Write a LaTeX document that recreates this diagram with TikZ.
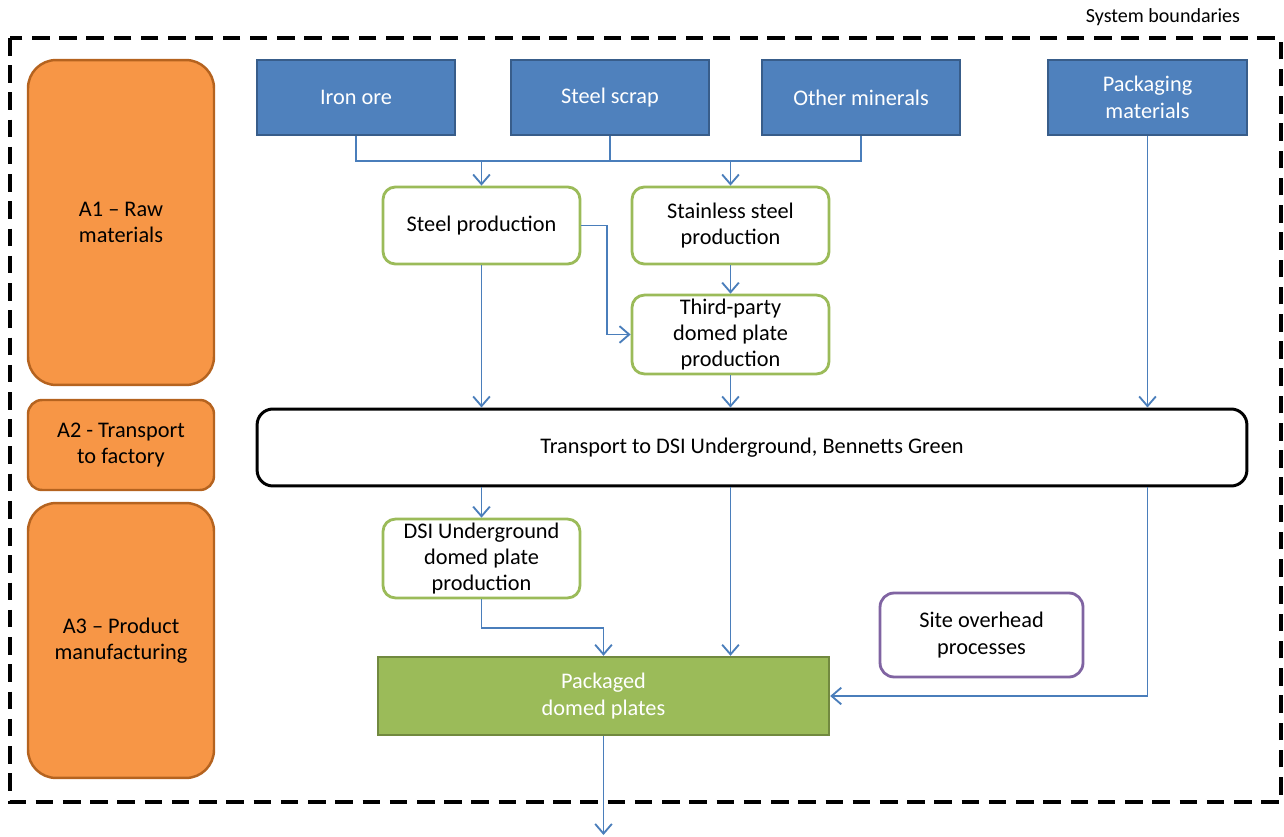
\documentclass[tikz,border=0pt]{standalone}
\usepackage{fontspec}
\setmainfont{Carlito}
\usetikzlibrary{arrows.meta}
\definecolor{orfill}{HTML}{F79646}
\definecolor{ordraw}{HTML}{B5631F}
\definecolor{blfill}{HTML}{4F81BD}
\definecolor{bldraw}{HTML}{385D8A}
\definecolor{grn}{HTML}{9BBB59}
\definecolor{grndraw}{HTML}{71893F}
\definecolor{purp}{HTML}{8064A2}
\definecolor{conn}{HTML}{4A7EBB}
\tikzset{
  every node/.style={font=\fontsize{12.7}{15}\selectfont, align=center, inner sep=2pt},
  phase/.style={draw=ordraw, fill=orfill, line width=1.4pt, rounded corners=16pt, minimum width=3.72cm},
  input/.style={draw=bldraw, fill=blfill, line width=1.2pt, text=white, minimum width=3.96cm, minimum height=1.5cm},
  proc/.style={draw=grn, fill=white, line width=1.6pt, rounded corners=7pt, minimum width=3.94cm, minimum height=1.54cm},
  wire/.style={draw=conn, line width=1.05pt},
  flow/.style={wire, -{Straight Barb[length=5.5pt,width=9.5pt]}},
}
\begin{document}
\begin{tikzpicture}[x=0.02cm, y=-0.02cm]
\useasboundingbox (0,0) rectangle (1284,837);
% system boundary
\draw[line width=2pt, dash pattern=on 10pt off 5.5pt] (10,38) rectangle (1281,802);
\node[font=\fontsize{11.4}{13}\selectfont] (sb) at (1163,17) {System boundaries};
% life-cycle phases
\node[phase, minimum height=6.5cm] (a1) at (121,222.5) {A1 -- Raw\\materials};
\node[phase, minimum height=1.8cm, rounded corners=8pt] (a2) at (121,445) {A2 - Transport\\to factory};
\node[phase, minimum height=5.5cm] (a3) at (121,640.5) {A3 -- Product\\manufacturing};
% raw inputs
\node[input] (iron) at (356,97.5) {Iron ore};
\node[input] (scrap) at (610,97.5) {Steel scrap};
\node[input] (other) at (861,97.5) {Other minerals};
\node[input, minimum width=3.98cm] (pack) at (1147.5,97.5) {Packaging\\materials};
% processes
\node[proc] (steel) at (481.5,225.5) {Steel production};
\node[proc] (stain) at (730.5,225.5) {Stainless steel\\production};
\node[proc] (third) at (730.5,334.5) {Third-party\\domed plate\\production};
\node[draw=black, fill=white, line width=1.7pt, rounded corners=9pt, minimum width=19.8cm, minimum height=1.54cm] (trans) at (752,447.5) {Transport to DSI Underground, Bennetts Green};
\node[proc] (dsi) at (481.5,558.5) {DSI Underground\\domed plate\\production};
\node[draw=grndraw, fill=grn, line width=1.4pt, text=white, minimum width=9.02cm, minimum height=1.56cm] (packd) at (603.5,696) {Packaged\\domed plates};
\node[draw=purp, fill=white, line width=1.6pt, rounded corners=8pt, minimum width=4.06cm, minimum height=1.68cm] (site) at (981.5,635) {Site overhead\\processes};
\coordinate (bus) at (0,161);
\coordinate (out) at (603.5,835);
% connectors
\draw[wire] (iron.south) |- (other.south |- bus) -- (other.south);
\draw[wire] (scrap.south) -- (scrap.south |- bus);
\draw[flow] (steel.north |- bus) -- (steel.north);
\draw[flow] (stain.north |- bus) -- (stain.north);
\draw[flow] (stain.south) -- (third.north);
\draw[flow] (steel.east) -- ++(26,0) |- (third.west);
\draw[flow] (steel.south) -- (steel.south |- trans.north);
\draw[flow] (third.south) -- (third.south |- trans.north);
\draw[flow] (pack.south) -- (pack.south |- trans.north);
\draw[flow] (trans.south -| dsi.north) -- (dsi.north);
\draw[flow] (trans.south -| third.south) -- (packd.north -| third.south);
\draw[flow] (trans.south -| pack.south) |- (packd.east);
\draw[flow] (dsi.south) -- ++(0,29) -| (packd.north);
\draw[flow] (packd.south) -- (out);
\end{tikzpicture}
\end{document}
